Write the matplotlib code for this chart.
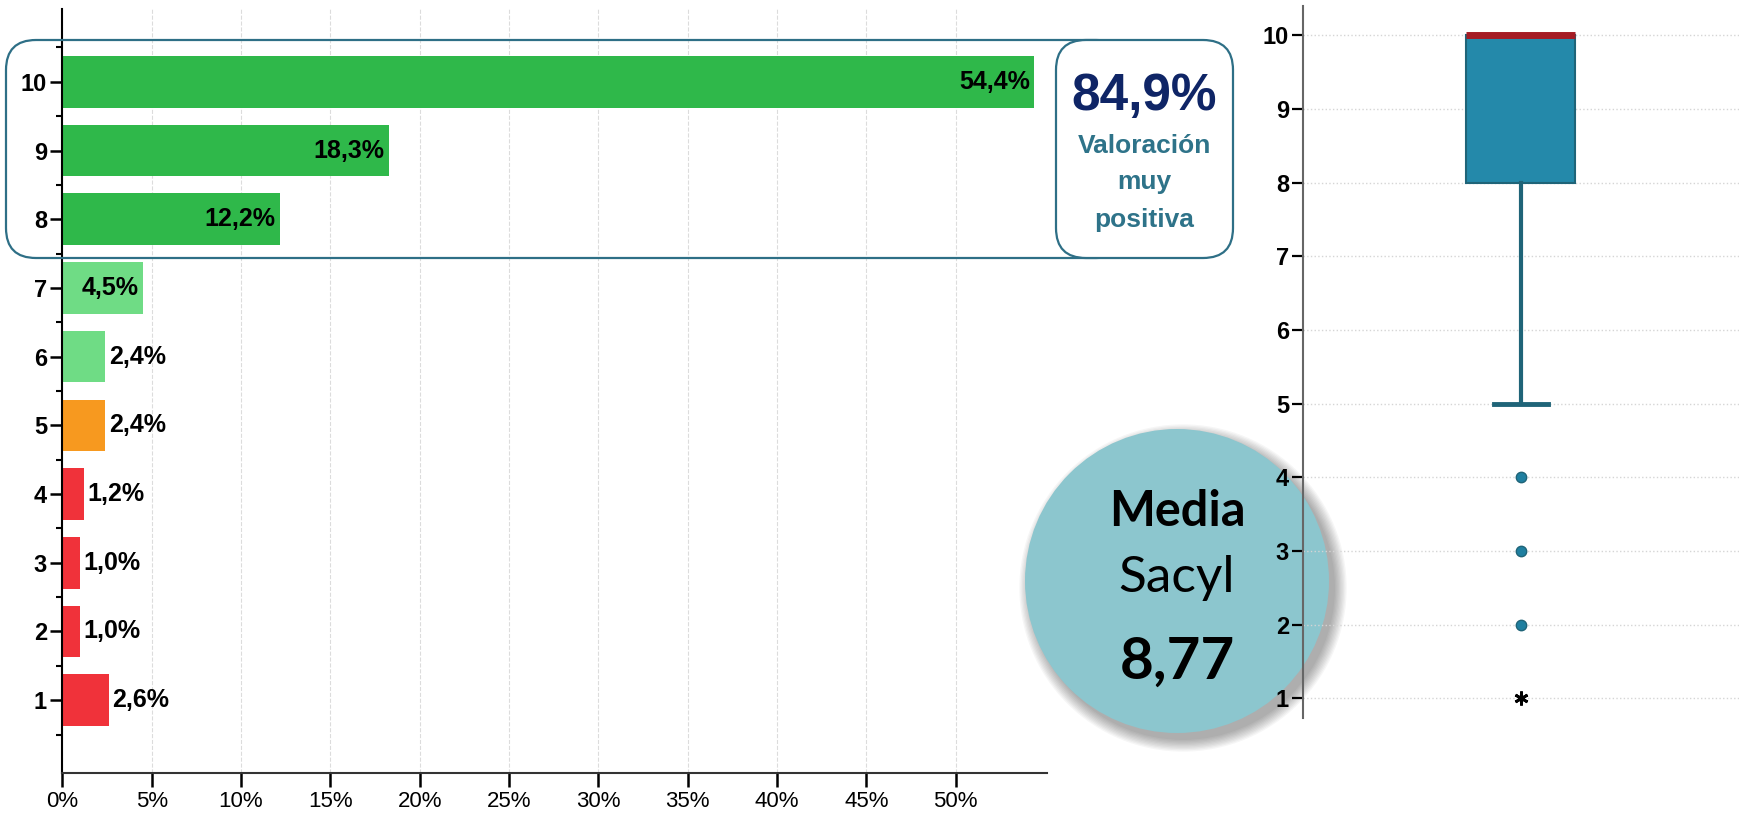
import matplotlib
matplotlib.use("Agg")
import matplotlib.pyplot as plt
from matplotlib.patches import FancyBboxPatch, Ellipse

# ==================== datos ====================
categorias = ["1", "2", "3", "4", "5", "6", "7", "8", "9", "10"]
porcentajes = [2.6, 1.0, 1.0, 1.2, 2.4, 2.4, 4.5, 12.2, 18.3, 54.4]
colores = ["#f0323a", "#f0323a", "#f0323a", "#f0323a", "#f7991f",
           "#6fdc85", "#6fdc85", "#2fb84a", "#2fb84a", "#2fb84a"]
x_ticks = [0, 5, 10, 15, 20, 25, 30, 35, 40, 45, 50]
x_labels = ["0%", "5%", "10%", "15%", "20%", "25%", "30%", "35%", "40%", "45%", "50%"]

# boxplot
caja_q1 = 8
caja_mediana = 10
caja_q3 = 10
bigote_inf = 5
bigote_sup = 10
atipicos = [4, 3, 2]
extremos = [1]
box_ticks = [1, 2, 3, 4, 5, 6, 7, 8, 9, 10]

total_positiva = "84,9%"
media_txt = "8,77"

W, H = 1746, 816
fuente = "Liberation Sans"

fig = plt.figure(figsize=(W / 100, H / 100), dpi=100)

# ==================== barras horizontales ====================
ax = fig.add_axes([0.0357, 0.0527, 0.5638, 0.9363], zorder=1)
ax.set_facecolor("none")
y = list(range(1, len(categorias) + 1))
ax.barh(y, porcentajes, height=0.75, color=colores, zorder=2)
ax.set_xlim(0, 55.1)
ax.set_ylim(-0.06, 11.06)
ax.set_yticks(y)
ax.set_yticklabels(categorias, fontsize=17, fontweight="bold", family=fuente)
ax.set_yticks([v + 0.5 for v in range(0, 11)], minor=True)
ax.tick_params(axis="y", which="major", length=9, width=1.8, pad=2)
ax.tick_params(axis="y", which="minor", length=4, width=1.5)
ax.set_xticks(x_ticks)
ax.set_xticklabels(x_labels, fontsize=16, family=fuente)
ax.tick_params(axis="x", length=10, width=1.8, pad=3)
ax.grid(axis="x", color="#dcdcdc", linestyle="--", linewidth=0.8, zorder=0)
for s in ["top", "right"]:
    ax.spines[s].set_visible(False)
ax.spines["left"].set_linewidth(1.5)
ax.spines["bottom"].set_linewidth(1.5)
ax.spines["bottom"].set_color("#333333")

for yi, v in zip(y, porcentajes):
    txt = f"{v:.1f}".replace(".", ",") + "%"
    if v > 4:
        ax.text(v - 0.25, yi, txt, ha="right", va="center", fontsize=18,
                fontweight="bold", family=fuente, zorder=3)
    else:
        ax.text(v + 0.2, yi, txt, ha="left", va="center", fontsize=18,
                fontweight="bold", family=fuente, zorder=3)

# ==================== capa superpuesta (cajas, círculo) ====================
ov = fig.add_axes([0, 0, 1, 1], zorder=3)
ov.set_xlim(0, W)
ov.set_ylim(H, 0)
ov.axis("off")
ov.set_facecolor("none")

ov.add_patch(FancyBboxPatch((6, 40), 1120, 218, boxstyle="round,pad=0,rounding_size=30",
                            facecolor="none", edgecolor="#2e6f86", linewidth=1.6))
ov.add_patch(FancyBboxPatch((1056, 40), 177, 218, boxstyle="round,pad=0,rounding_size=30",
                            facecolor="white", edgecolor="#2e6f86", linewidth=1.6))
ov.text(1144, 97, total_positiva, ha="center", va="center", fontsize=37,
        fontweight="bold", color="#0f2566", family=fuente)
for ty, t in zip([146, 182, 220], ["Valoración", "muy", "positiva"]):
    ov.text(1144, ty, t, ha="center", va="center", fontsize=19,
            fontweight="bold", color="#2e7389", family=fuente)

# círculo con sombra
cx, cy, r = 1177, 581, 152
for i in range(10):
    ov.add_patch(Ellipse((cx + 6, cy + 7), 2 * (r + i * 1.3), 2 * (r + i * 1.3),
                         facecolor="#000000", alpha=0.035, edgecolor="none"))
ov.add_patch(Ellipse((cx, cy), 2 * r, 2 * r, facecolor="#8cc6ce", edgecolor="none"))
ov.text(cx, 511, "Media", ha="center", va="center", fontsize=35, fontweight="bold",
        family="Lato")
ov.text(cx, 578, "Sacyl", ha="center", va="center", fontsize=37, family="Lato")
ov.text(cx, 662, media_txt, ha="center", va="center", fontsize=42, fontweight="bold",
        family="Lato")

# ==================== boxplot ====================
bx = fig.add_axes([0.7462, 0.12, 0.2498, 0.873], zorder=4)
bx.set_facecolor("none")
stats = [{"med": caja_mediana, "q1": caja_q1, "q3": caja_q3,
          "whislo": bigote_inf, "whishi": bigote_sup, "fliers": atipicos}]
bx.bxp(stats, positions=[1], widths=0.5, patch_artist=True, showfliers=True,
       boxprops=dict(facecolor="#2489aa", edgecolor="#1f6478", linewidth=1.5),
       medianprops=dict(color="#a51c24", linewidth=5),
       whiskerprops=dict(color="#1f6478", linewidth=3),
       capprops=dict(color="#1f6478", linewidth=3.5),
       flierprops=dict(marker="o", markerfacecolor="#1f7fa0",
                       markeredgecolor="#1f6478", markersize=7.5))
bx.plot([1] * len(extremos), extremos, linestyle="none", marker=(6, 2, 0),
        color="black", markersize=10, markeredgewidth=2)
bx.set_xlim(0, 2)
bx.set_ylim(0.73, 10.4)
bx.set_xticks([])
bx.set_yticks(box_ticks)
bx.set_yticklabels([str(t) for t in box_ticks], fontsize=17, fontweight="bold",
                   family=fuente)
bx.tick_params(axis="y", length=8, width=1.6, pad=2)
bx.grid(axis="y", color="#d5d5d5", linestyle=":", linewidth=1.0)
bx.set_axisbelow(True)
for s in ["top", "right", "bottom"]:
    bx.spines[s].set_visible(False)
bx.spines["left"].set_color("#666666")
bx.spines["left"].set_linewidth(1.5)

fig.savefig("out.png", dpi=100)
